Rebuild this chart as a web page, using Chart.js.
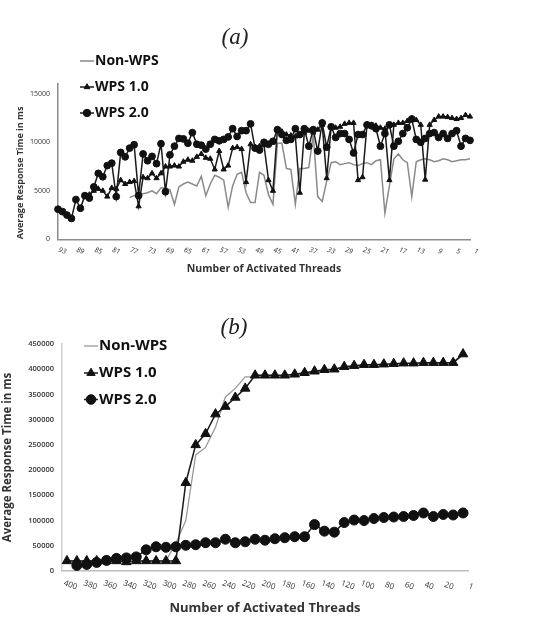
<!DOCTYPE html>
<html><head><meta charset="utf-8">
<script src="https://cdn.jsdelivr.net/npm/chart.js@4.4.0/dist/chart.umd.min.js"></script>
<style>
html,body{margin:0;padding:0;background:#fff;}
#wrap{position:relative;width:541px;height:623px;overflow:hidden;background:#fff;}
#ca{position:absolute;left:0;top:0;}
#cb{position:absolute;left:0;top:300px;}
</style></head><body>
<div id="wrap"><canvas id="ca" width="541" height="300"></canvas><canvas id="cb" width="541" height="323"></canvas></div>
<script>
// ---------- Chart (a) ----------
const threadsA = [93,92,91,90,89,88,87,86,85,84,83,82,81,80,79,78,77,76,75,74,73,72,71,70,69,68,67,66,65,64,63,62,61,60,59,58,57,56,55,54,53,52,51,50,49,48,47,46,45,44,43,42,41,40,39,38,37,36,35,34,33,32,31,30,29,28,27,26,25,24,23,22,21,20,19,18,17,16,15,14,13,12,11,10,9,8,7,6,5,4,3,2,1];
const nonWpsA = [null,null,null,null,null,null,null,null,null,null,null,null,null,null,null,null,
  4300,4500,4600,4700,4800,5000,4700,5300,5300,5100,
  3600,5400,5700,5900,5700,5500,6500,4500,5700,6600,
  6400,6100,3300,5500,6700,6900,4800,3800,3800,6900,
  6600,4600,3600,9900,9900,7300,7200,3600,7300,7300,
  7400,10800,4400,3900,6000,7900,8000,7700,7800,7900,
  7700,7600,7800,7900,7700,8100,8200,2700,5500,8300,
  8800,8200,7900,4400,8000,8200,8300,8200,8000,8100,
  8300,8200,8000,8100,8200,8200,8300];
const wps1A = [null,null,null,null,null,null,null,
  4600,5000,5200,5000,4400,5300,5200,6100,5700,5900,
  6000,3400,6400,6300,6800,6300,6800,7500,7500,7600,
  7500,8000,8200,8100,8500,8800,8400,8300,7200,9100,
  7200,7600,9400,9500,9300,5900,9800,9500,9600,9700,
  6100,5000,11300,11100,10800,10700,10600,4800,11000,11200,
  11000,11300,11800,6300,11600,11500,11600,11900,12000,12000,
  6100,6400,11800,11800,11700,11500,11400,6100,11800,12000,
  12000,12200,12500,12300,11800,6150,11800,12300,12650,12650,
  12600,12500,12400,12500,12800,12650];
const wps2A = [3100,2850,2500,2150,4100,3200,4500,4250,5400,6800,
  6450,7600,7850,4400,8950,8500,9400,9750,4500,8800,
  8100,8550,7800,9850,4900,8700,9600,10400,10350,9900,
  11000,9800,9700,9300,9800,10300,10150,10300,10550,11400,
  10600,11200,11200,11900,9400,9200,10000,9800,10100,11300,
  10800,10200,10300,11400,10800,11400,9600,11300,9100,12000,
  9500,11600,10500,10900,10900,10300,8900,10800,10800,11800,
  11700,11400,9600,10900,11800,9600,10100,10900,11500,12400,
  10300,10000,10400,10900,11000,10500,10900,10400,10900,11200,
  9600,10400,10200];
const yTicksA = [0,5000,10000,15000];

// ---------- Chart (b) ----------
const threadsB = [400,390,380,370,360,350,340,330,320,310,300,290,280,270,260,250,240,230,220,210,200,190,180,170,160,150,140,130,120,110,100,90,80,70,60,50,40,30,20,10,1];
const nonWpsB = [20000,20000,20000,20000,20000,20000,20000,20000,20000,20000,20000,55000,100000,230000,245000,285000,345000,362000,385000,385000,
  385000,385000,385000,388000,391000,394000,397000,399000,403000,405000,407000,408000,409000,410000,411000,411000,412000,412000,412000,412000,428000];
const wps1B = [20000,20000,20000,20000,20000,20000,18000,20000,20000,20000,20000,20000,175000,250000,272000,311000,326000,344000,362000,388000,
  388000,388000,388000,390000,393000,396000,399000,400000,405000,407000,409000,409000,410000,411000,412000,412000,413000,413000,413000,413000,430000];
const wps2B = [null,11000,13000,17000,21000,25000,26000,28000,42000,48000,47000,48000,51000,52000,56000,56000,63000,56000,58000,63000,
  61000,64000,66000,68000,68000,92000,79000,77000,96000,101000,100000,104000,106000,107000,108000,110000,115000,108000,112000,111000,115000];

const SANS = "'Open Sans', 'Noto Sans', 'DejaVu Sans', sans-serif";

// vertical legend drawn from the dataset styles
const vLegend = {
  id: 'vLegend',
  afterDraw(chart, args, opts) {
    const ctx = chart.ctx;
    ctx.save();
    chart.data.datasets.forEach((ds, i) => {
      const y = opts.ys[i];
      const x0 = opts.x, x1 = opts.x + opts.lineLen;
      ctx.strokeStyle = ds.borderColor;
      ctx.lineWidth = ds.borderWidth;
      ctx.beginPath(); ctx.moveTo(x0, y); ctx.lineTo(x1, y); ctx.stroke();
      if (opts.markerR[i] > 0) {
        ctx.fillStyle = ds.pointBackgroundColor;
        ctx.strokeStyle = ds.pointBorderColor;
        ctx.lineWidth = 1;
        Chart.helpers.drawPoint(ctx, {pointStyle: ds.pointStyle, radius: opts.markerR[i], borderWidth: 1, rotation: 0}, (x0 + x1) / 2, y);
      }
      ctx.fillStyle = '#111';
      ctx.font = opts.font;
      ctx.textBaseline = 'middle';
      ctx.textAlign = 'left';
      ctx.fillText(ds.label, x1 + opts.gap, y);
    });
    ctx.restore();
  }
};

function lineDs(label, data, color, width, style, radius, order) {
  return {
    label, data, borderColor: color, borderWidth: width,
    pointStyle: style || 'circle', pointRadius: radius, pointHoverRadius: radius,
    pointBackgroundColor: '#111', pointBorderColor: '#111', pointBorderWidth: 1,
    tension: 0, fill: false, order, spanGaps: false
  };
}

new Chart(document.getElementById('ca'), {
  type: 'line',
  data: {
    labels: threadsA,
    datasets: [
      lineDs('Non-WPS', nonWpsA, '#8a8a8a', 1.5, 'circle', 0, 3),
      lineDs('WPS 1.0', wps1A, '#1a1a1a', 1.5, 'triangle', 3, 2),
      lineDs('WPS 2.0', wps2A, '#1a1a1a', 1.5, 'circle', 3.4, 1)
    ]
  },
  options: {
    responsive: false, animation: false,
    layout: { padding: { left: 0, right: 71, top: 0, bottom: 0 } },
    plugins: {
      legend: { display: false }, tooltip: { enabled: false },
      title: { display: true, text: '(a)', color: '#222',
        font: { family: "'Liberation Serif', 'DejaVu Serif', serif", style: 'italic', size: 23, weight: 'normal' },
        padding: { top: 24.5, bottom: 32 } },
      vLegend: { x: 80, lineLen: 14, gap: 1, ys: [61, 87, 113], markerR: [0, 3.3, 3.7], font: "bold 14px 'Open Sans'" }
    },
    scales: {
      x: {
        type: 'category', offset: false,
        grid: { display: false, drawTicks: false },
        border: { display: true, color: '#8c8c8c', width: 1.5 },
        ticks: { autoSkip: false, minRotation: -20, maxRotation: -20, labelOffset: 8, padding: 9,
          font: { family: SANS, size: 7, style: 'italic' }, color: '#333',
          callback: function (v, i) { return i % 4 === 0 ? this.getLabelForValue(v) : ''; } },
        title: { display: true, text: 'Number of Activated Threads', color: '#333',
          font: { family: SANS, size: 10.5, weight: 'bold' }, padding: { top: 0, bottom: 25 } },
        afterFit: (s) => { s.height = 60.7; }
      },
      y: {
        min: 0, max: 16000,
        grid: { display: false, drawTicks: false },
        border: { display: true, color: '#8c8c8c', width: 1.5 },
        afterBuildTicks: (s) => { s.ticks = yTicksA.map(v => ({ value: v })); },
        ticks: { padding: 8, font: { family: SANS, size: 7 }, color: '#333', callback: v => String(v) },
        title: { display: true, text: 'Average Response Time in ms', align: 'start', color: '#333',
          font: { family: SANS, size: 9, weight: 'bold' }, padding: { top: 14.6, bottom: 0 } },
        afterFit: (s) => { s.width = 58; }
      }
    }
  },
  plugins: [vLegend]
});

new Chart(document.getElementById('cb'), {
  type: 'line',
  data: {
    labels: threadsB,
    datasets: [
      lineDs('Non-WPS', nonWpsB, '#9a9a9a', 1.3, 'circle', 0, 3),
      lineDs('WPS 1.0', wps1B, '#1a1a1a', 1.5, 'triangle', 5.5, 2),
      lineDs('WPS 2.0', wps2B, '#1a1a1a', 1.5, 'circle', 5, 1)
    ]
  },
  options: {
    responsive: false, animation: false,
    layout: { padding: { left: 0, right: 73, top: 0, bottom: 0 } },
    plugins: {
      legend: { display: false }, tooltip: { enabled: false },
      title: { display: true, text: '(b)', color: '#222',
        font: { family: "'Liberation Serif', 'DejaVu Serif', serif", style: 'italic', size: 23, weight: 'normal' },
        padding: { top: 14.2, bottom: 2.2 } },
      vLegend: { x: 84, lineLen: 14, gap: 1, ys: [46, 73, 99.5], markerR: [0, 4.8, 4.8], font: "bold 15px 'Open Sans'" }
    },
    scales: {
      x: {
        type: 'category', offset: true,
        grid: { display: false, drawTicks: false },
        border: { display: true, color: '#bdbdbd', width: 1.5 },
        ticks: { autoSkip: false, minRotation: -20, maxRotation: -20, labelOffset: 10, padding: 12,
          font: { family: SANS, size: 8 }, color: '#333',
          callback: function (v, i) { return i % 2 === 0 ? this.getLabelForValue(v) : ''; } },
        title: { display: true, text: 'Number of Activated Threads', color: '#333',
          font: { family: SANS, size: 13, weight: 'bold' }, padding: { top: 0, bottom: 7.2 } },
        afterFit: (s) => { s.height = 52; }
      },
      y: {
        min: 0, max: 450000,
        grid: { display: false, drawTicks: false },
        border: { display: true, color: '#d0d0d0', width: 1.5 },
        ticks: { stepSize: 50000, padding: 8, font: { family: SANS, size: 7.5, weight: '600' }, color: '#333', callback: v => String(v) },
        title: { display: true, text: 'Average Response Time in ms', color: '#333',
          font: { family: SANS, size: 11.5, weight: 'bold' }, padding: { top: 1.1, bottom: 0 } },
        afterFit: (s) => { s.width = 62; }
      }
    }
  },
  plugins: [vLegend]
});
</script>
</body></html>
